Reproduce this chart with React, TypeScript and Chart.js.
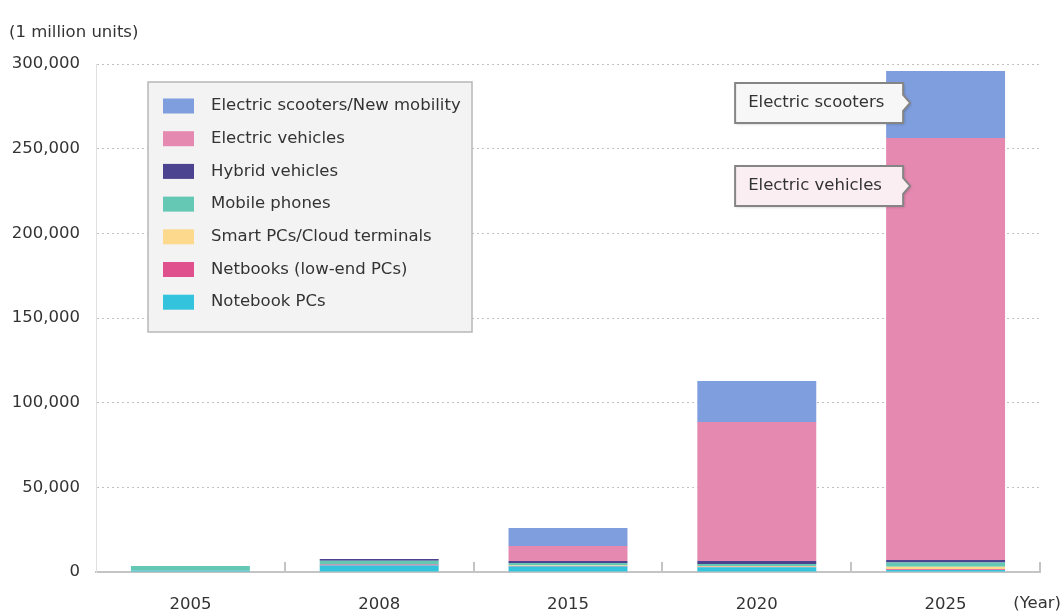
import React, { useEffect, useRef } from 'react';
import { Chart, registerables } from 'chart.js';

Chart.register(...registerables);

const categories = ['2005', '2008', '2015', '2020', '2025'];
const notebookPCs = [800, 3800, 3200, 2800, 1200];
const netbooks = [0, 600, 300, 300, 400];
const smartPCs = [0, 0, 300, 400, 1500];
const mobilePhones = [2700, 2200, 1500, 1200, 2500];
const hybridVehicles = [0, 1100, 1200, 1800, 1500];
const electricVehicles = [0, 0, 8850, 82100, 249200];
const electricScooters = [0, 0, 10650, 24200, 39600];
const yTickValues = [0, 50000, 100000, 150000, 200000, 250000, 300000];
const calloutLabels = ['Electric scooters', 'Electric vehicles'];
const calloutValues = [277000, 228000];
const unitLabel = '(1 million units)';
const xUnitLabel = '(Year)';

const FONT = '"DejaVu Sans", sans-serif';
const FS = 16.5;
const TEXT = '#333333';

const overlayPlugin = {
  id: 'overlay',
  afterDraw(chart: any) {
    const { ctx, chartArea, scales } = chart;
    const x = scales.x;
    const y = scales.y;
    ctx.save();
    ctx.font = `${FS}px ${FONT}`;
    ctx.fillStyle = TEXT;
    ctx.textBaseline = 'middle';
    ctx.textAlign = 'left';
    ctx.fillText(unitLabel, 9, 33);
    ctx.textAlign = 'right';
    ctx.fillText(xUnitLabel, 1061, 604);

    // category boundary ticks (upward)
    ctx.strokeStyle = '#c4c4c4';
    ctx.lineWidth = 2;
    for (let i = 0; i < categories.length; i++) {
      const px = Math.round(x.getPixelForValue(i + 0.5));
      ctx.beginPath();
      ctx.moveTo(px, chartArea.bottom - 10);
      ctx.lineTo(px, chartArea.bottom);
      ctx.stroke();
    }

    // legend box
    const lx0 = 148, ly0 = 82, lx1 = 472, ly1 = 332;
    ctx.fillStyle = '#f3f3f3';
    ctx.fillRect(lx0, ly0, lx1 - lx0, ly1 - ly0);
    ctx.strokeStyle = '#b8b8b8';
    ctx.lineWidth = 1.5;
    ctx.strokeRect(lx0, ly0, lx1 - lx0, ly1 - ly0);
    const ds = chart.data.datasets.slice().reverse();
    ds.forEach((d: any, i: number) => {
      const cy = 106 + i * 32.7;
      ctx.fillStyle = d.backgroundColor;
      ctx.fillRect(163, cy - 7.5, 31, 15);
      ctx.fillStyle = TEXT;
      ctx.textAlign = 'left';
      ctx.textBaseline = 'middle';
      ctx.fillText(d.label, 211, cy);
    });

    // callouts
    const lastDs = chart.data.datasets.length - 1;
    const bar: any = chart.getDatasetMeta(lastDs).data[categories.length - 1];
    const barLeft = bar.x - bar.width / 2;
    const bx1 = barLeft + 17;
    const bx0 = bx1 - 168;
    const fills = ['#f7f7f7', '#fbeef3'];
    calloutLabels.forEach((lab, i) => {
      const ym = y.getPixelForValue(calloutValues[i]);
      const by0 = ym - 20, by1 = ym + 20;
      const path = () => {
        ctx.beginPath();
        ctx.moveTo(bx0, by0);
        ctx.lineTo(bx1, by0);
        ctx.lineTo(bx1, ym - 8);
        ctx.lineTo(bx1 + 7, ym);
        ctx.lineTo(bx1, ym + 8);
        ctx.lineTo(bx1, by1);
        ctx.lineTo(bx0, by1);
        ctx.closePath();
      };
      ctx.save();
      ctx.shadowColor = 'rgba(0,0,0,0.25)';
      ctx.shadowBlur = 3;
      ctx.shadowOffsetX = 1;
      ctx.shadowOffsetY = 1;
      path();
      ctx.fillStyle = fills[i];
      ctx.fill();
      ctx.restore();
      path();
      ctx.strokeStyle = '#858585';
      ctx.lineWidth = 2;
      ctx.stroke();
      ctx.fillStyle = TEXT;
      ctx.textAlign = 'left';
      ctx.textBaseline = 'middle';
      ctx.fillText(lab, bx0 + 13, ym);
    });
    ctx.restore();
  },
};

export default function App() {
  const ref = useRef<HTMLCanvasElement | null>(null);
  useEffect(() => {
    document.body.style.margin = '0';
    if (!ref.current) return;
    const mk = (label: string, data: number[], color: string) => ({
      label,
      data,
      backgroundColor: color,
      borderWidth: 0,
      barPercentage: 0.63,
      categoryPercentage: 1,
    });
    const chart = new Chart(ref.current, {
      type: 'bar',
      data: {
        labels: categories,
        datasets: [
          mk('Notebook PCs', notebookPCs, '#33c3dc'),
          mk('Netbooks (low-end PCs)', netbooks, '#e0508c'),
          mk('Smart PCs/Cloud terminals', smartPCs, '#fcd98c'),
          mk('Mobile phones', mobilePhones, '#64c8b4'),
          mk('Hybrid vehicles', hybridVehicles, '#4b4390'),
          mk('Electric vehicles', electricVehicles, '#e689b0'),
          mk('Electric scooters/New mobility', electricScooters, '#7f9ede'),
        ],
      },
      options: {
        animation: false,
        responsive: true,
        maintainAspectRatio: false,
        layout: { padding: { left: 0, top: 64, right: 22, bottom: 0 } },
        plugins: { legend: { display: false }, tooltip: { enabled: false } },
        scales: {
          x: {
            stacked: true,
            grid: { display: false },
            border: { display: true, color: '#c4c4c4', width: 2 },
            ticks: { font: { family: FONT, size: FS }, color: TEXT, padding: 15 },
            afterFit: (s: any) => { s.height = 42; },
          },
          y: {
            stacked: true,
            min: 0,
            max: 300000,
            afterBuildTicks: (s: any) => { s.ticks = yTickValues.map((v) => ({ value: v })); },
            ticks: {
              font: { family: FONT, size: FS },
              color: TEXT,
              padding: 16,
              callback: (v: any) => Number(v).toLocaleString('en-US'),
            },
            grid: { color: '#c0c0c0', lineWidth: 1, drawTicks: false },
            border: { display: true, color: '#e0e0e0', width: 1, dash: [2, 3] },
            afterFit: (s: any) => { s.width = 96; },
          },
        },
      },
      plugins: [overlayPlugin],
    });
    return () => chart.destroy();
  }, []);
  return (
    <div style={{ position: 'relative', width: 1062, height: 614 }}>
      <canvas ref={ref} />
    </div>
  );
}
